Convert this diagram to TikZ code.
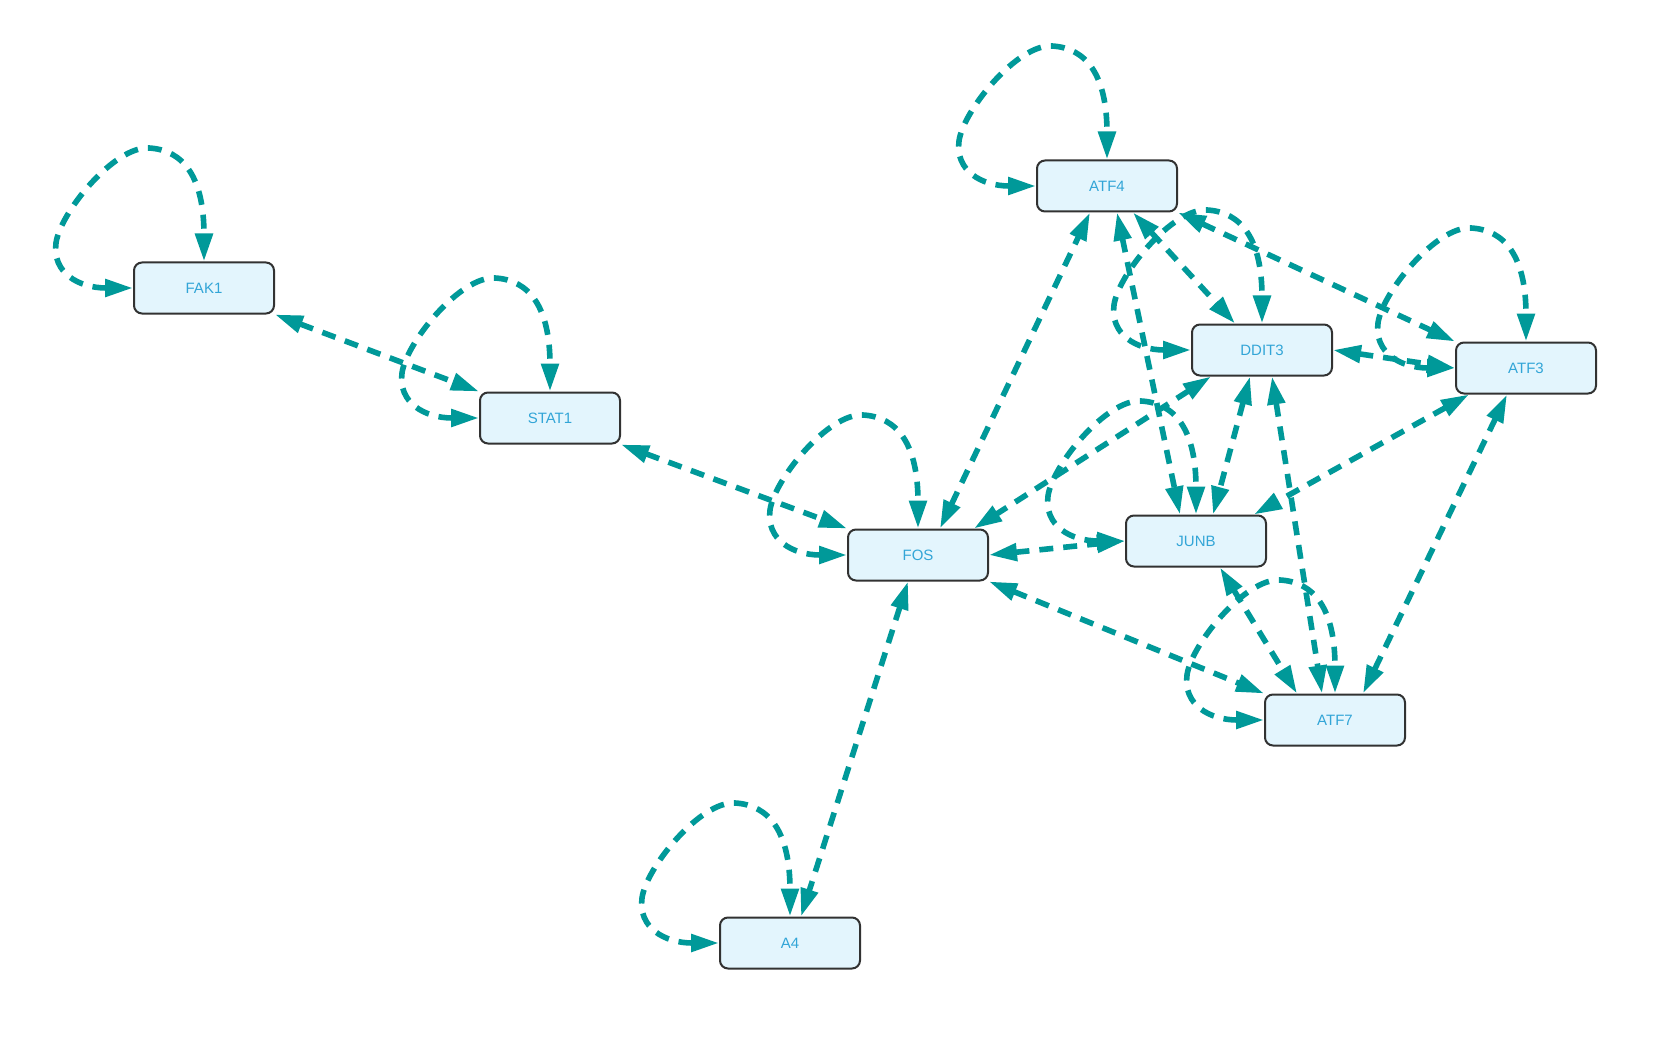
\documentclass[tikz,border=0pt]{standalone}
\usepackage{fontspec}
\setmainfont{Liberation Sans}
\usetikzlibrary{arrows.meta,calc}
\definecolor{edgecol}{RGB}{0,153,153}
\definecolor{boxfill}{RGB}{227,245,253}
\definecolor{boxtext}{RGB}{50,165,215}
\definecolor{boxline}{RGB}{50,50,50}
\tikzset{
  gene/.style={draw=boxline, line width=1pt, fill=boxfill, rounded corners=4pt,
    minimum width=70pt, minimum height=25.5pt, inner sep=0pt, text=boxtext,
    font=\fontsize{7.5}{9}\selectfont},
  edge/.style={draw=edgecol, line width=2.8pt, dash pattern=on 7pt off 5pt,
    {Triangle[length=14pt,width=8.5pt]}-{Triangle[length=14pt,width=8.5pt]}},
}
\newcommand\selfloop[1]{\draw[edge] (#1.west) .. controls ($(#1)+(-125,0)$) and ($(#1)+(-152,-15)$) .. ($(#1)+(-148,-45)$) .. controls ($(#1)+(-144,-75)$) and ($(#1)+(-90,-142)$) .. ($(#1)+(-55,-140)$) .. controls ($(#1)+(-20,-138)$) and ($(#1)+(0,-110)$) .. (#1.north);}
\begin{document}
\begin{tikzpicture}[x=0.5pt,y=-0.5pt]
\fill[white] (0,0) rectangle (1670,1048);
\useasboundingbox (0,0) rectangle (1670,1048);
\node[gene] (fak1) at (204,288) {FAK1};
\node[gene] (stat1) at (550,418) {STAT1};
\node[gene] (atf4) at (1107,186) {ATF4};
\node[gene] (ddit3) at (1262,350) {DDIT3};
\node[gene] (atf3) at (1526,368) {ATF3};
\node[gene] (fos) at (918,555) {FOS};
\node[gene] (junb) at (1196,541) {JUNB};
\node[gene] (atf7) at (1335,720) {ATF7};
\node[gene] (a4) at (790,943) {A4};
\selfloop{fak1}
\selfloop{stat1}
\selfloop{atf4}
\selfloop{ddit3}
\selfloop{atf3}
\selfloop{fos}
\selfloop{junb}
\selfloop{atf7}
\selfloop{a4}
\draw[edge] (fak1.south east) -- (stat1.north west);
\draw[edge] (stat1.south east) -- (fos.north west);
\draw[edge] ($(fos.north)+(22,0)$) -- ($(atf4.south)+(-17,0)$);
\draw[edge] ($(fos.south)+(-10,0)$) -- ($(a4.north)+(11,0)$);
\draw[edge] (fos.east) -- (junb.west);
\draw[edge] ($(ddit3.south west)+(20,0)$) -- ($(fos.north east)+(-15,0)$);
\draw[edge] ($(atf4.south)+(26,0)$) -- ($(ddit3.north)+(-27,0)$);
\draw[edge] (atf4.south east) -- (atf3.north west);
\draw[edge] ($(atf4.south)+(10,0)$) -- ($(junb.north)+(-16,0)$);
\draw[edge] ($(ddit3.south)+(-12,0)$) -- ($(junb.north)+(17,0)$);
\draw[edge] ($(ddit3.south)+(10,0)$) -- ($(atf7.north)+(-13,0)$);
\draw[edge] ($(junb.south)+(24,0)$) -- ($(atf7.north)+(-38,0)$);
\draw[edge] (fos.south east) -- (atf7.north west);
\draw[edge] ($(atf3.south)+(-19,0)$) -- ($(atf7.north)+(28,0)$);
\draw[edge] ($(atf3.south west)+(14,0)$) -- ($(junb.north east)+(-13,0)$);
\draw[edge] (ddit3.east) -- (atf3.west);
\end{tikzpicture}
\end{document}
